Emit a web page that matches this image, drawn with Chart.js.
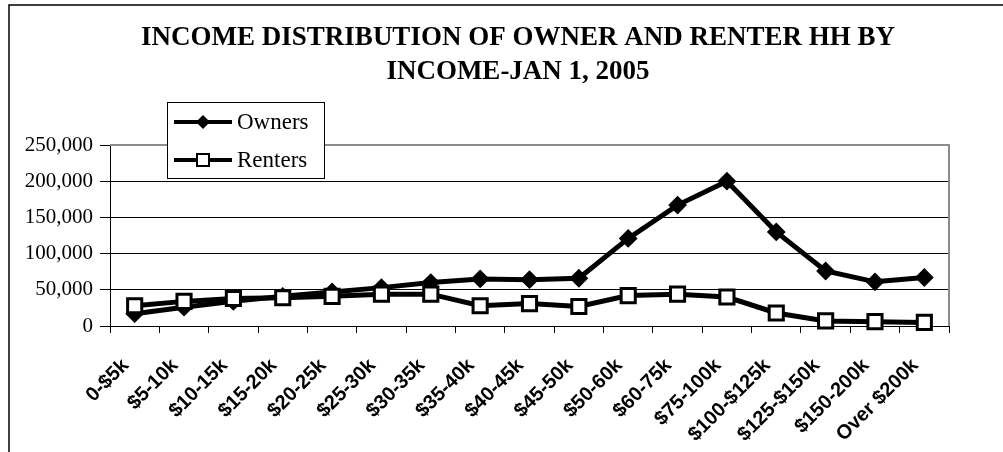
<!DOCTYPE html>
<html>
<head>
<meta charset="utf-8">
<style>
  html, body { margin: 0; padding: 0; background: #ffffff; }
  #wrap { position: relative; width: 1003px; height: 452px; }
  canvas { display: block; }
</style>
<script src="https://cdn.jsdelivr.net/npm/chart.js@4/dist/chart.umd.min.js"></script>
</head>
<body>
<div id="wrap"><canvas id="chart" width="1003" height="452"></canvas></div>
<script>
// Income brackets (x categories)
const categories = [
  '0-$5k', '$5-10k', '$10-15k', '$15-20k', '$20-25k', '$25-30k', '$30-35k',
  '$35-40k', '$40-45k', '$45-50k', '$50-60k', '$60-75k', '$75-100k',
  '$100-$125k', '$125-$150k', '$150-200k', 'Over $200k'
];

// Households by tenure
const owners = [17000, 26000, 34000, 41000, 47000, 53000, 60000, 65000, 64000,
  66000, 121000, 167000, 200000, 130000, 76000, 61000, 67000];
const renters = [28000, 34000, 38000, 39000, 41000, 44000, 44000, 28000, 31000,
  27000, 42000, 44000, 40000, 18000, 7000, 6000, 5000];

// Value axis
const yTicks = [0, 50000, 100000, 150000, 200000, 250000];

const titleLines = ['INCOME DISTRIBUTION OF OWNER AND RENTER HH BY', 'INCOME-JAN 1, 2005'];
const seriesNames = ['Owners', 'Renters'];

const SERIF = '"Liberation Serif", "Times New Roman", serif';
const SANS = '"Liberation Sans", Arial, sans-serif';

// Outer frame, plot frame, title and legend box
const decor = {
  id: 'decor',
  beforeDraw(chart) {
    const ctx = chart.ctx;
    ctx.save();
    ctx.fillStyle = '#ffffff';
    ctx.fillRect(0, 0, chart.width, chart.height);
    ctx.strokeStyle = '#000000';
    ctx.lineWidth = 1.5;
    ctx.beginPath();
    ctx.moveTo(9, chart.height);
    ctx.lineTo(9, 5);
    ctx.lineTo(chart.width, 5);
    ctx.stroke();

    ctx.fillStyle = '#000000';
    ctx.font = 'bold 27px ' + SERIF;
    ctx.textAlign = 'center';
    ctx.textBaseline = 'middle';
    ctx.fillText(titleLines[0], 518, 38);
    ctx.fillText(titleLines[1], 518, 72);
    ctx.restore();
  },
  beforeDatasetsDraw(chart) {
    const a = chart.chartArea;
    const ctx = chart.ctx;
    ctx.save();
    ctx.strokeStyle = '#8c8c8c';
    ctx.lineWidth = 2;
    ctx.beginPath();
    ctx.moveTo(a.left, a.top);
    ctx.lineTo(a.right, a.top);
    ctx.lineTo(a.right, a.bottom);
    ctx.stroke();
    ctx.restore();
  },
  afterDraw(chart) {
    const ctx = chart.ctx;
    const box = { x: 167, y: 102, w: 157, h: 76 };
    ctx.save();
    ctx.fillStyle = '#ffffff';
    ctx.fillRect(box.x, box.y, box.w, box.h);
    ctx.strokeStyle = '#000000';
    ctx.lineWidth = 1;
    ctx.strokeRect(box.x + 0.5, box.y + 0.5, box.w, box.h);

    const rows = [122, 160];
    rows.forEach((ry, i) => {
      ctx.strokeStyle = '#000000';
      ctx.lineWidth = 4;
      ctx.beginPath();
      ctx.moveTo(174, ry);
      ctx.lineTo(232, ry);
      ctx.stroke();
      if (i === 0) {
        ctx.fillStyle = '#000000';
        ctx.beginPath();
        ctx.moveTo(203 - 7, ry);
        ctx.lineTo(203, ry - 7);
        ctx.lineTo(203 + 7, ry);
        ctx.lineTo(203, ry + 7);
        ctx.closePath();
        ctx.fill();
      } else {
        ctx.fillStyle = '#ffffff';
        ctx.lineWidth = 2;
        ctx.fillRect(197, ry - 6, 12, 12);
        ctx.strokeRect(197, ry - 6, 12, 12);
      }
      ctx.fillStyle = '#000000';
      ctx.font = '23px ' + SERIF;
      ctx.textAlign = 'left';
      ctx.textBaseline = 'middle';
      ctx.fillText(seriesNames[i], 237, ry + 1);
    });
    ctx.restore();
  }
};

new Chart(document.getElementById('chart'), {
  type: 'line',
  data: {
    labels: categories,
    datasets: [
      {
        label: seriesNames[0],
        data: owners,
        order: 1,
        borderColor: '#000000',
        borderWidth: 5,
        tension: 0,
        pointStyle: 'rectRot',
        pointRadius: 8,
        pointBackgroundColor: '#000000',
        pointBorderColor: '#000000',
        pointBorderWidth: 2,
        clip: false
      },
      {
        label: seriesNames[1],
        data: renters,
        order: 0,
        borderColor: '#000000',
        borderWidth: 5,
        tension: 0,
        pointStyle: 'rect',
        pointRadius: 10,
        pointBackgroundColor: '#ffffff',
        pointBorderColor: '#000000',
        pointBorderWidth: 3,
        clip: false
      }
    ]
  },
  options: {
    responsive: false,
    animation: false,
    events: [],
    layout: { padding: { top: 145, right: 54, bottom: 0, left: 0 } },
    plugins: {
      legend: { display: false },
      title: { display: false },
      tooltip: { enabled: false }
    },
    scales: {
      x: {
        offset: true,
        grid: {
          offset: true,
          drawOnChartArea: false,
          drawTicks: true,
          tickLength: 7,
          color: '#000000'
        },
        border: { display: true, color: '#000000', width: 1 },
        ticks: {
          autoSkip: false,
          maxRotation: 45,
          minRotation: 45,
          padding: 21,
          labelOffset: -9,
          color: '#000000',
          font: { family: SANS, size: 20, weight: 'bold' }
        },
        afterFit(scale) { scale.height = 126; }
      },
      y: {
        min: 0,
        max: 250000,
        afterBuildTicks(scale) { scale.ticks = yTicks.map(v => ({ value: v })); },
        grid: {
          color: '#000000',
          lineWidth: 1,
          drawTicks: true,
          tickLength: 10
        },
        border: { display: true, color: '#000000', width: 1 },
        ticks: {
          padding: 7,
          color: '#000000',
          font: { family: SERIF, size: 21 },
          callback: (v) => Number(v).toLocaleString('en-US')
        },
        afterFit(scale) { scale.width = 110; }
      }
    }
  },
  plugins: [decor]
});
</script>
</body>
</html>
